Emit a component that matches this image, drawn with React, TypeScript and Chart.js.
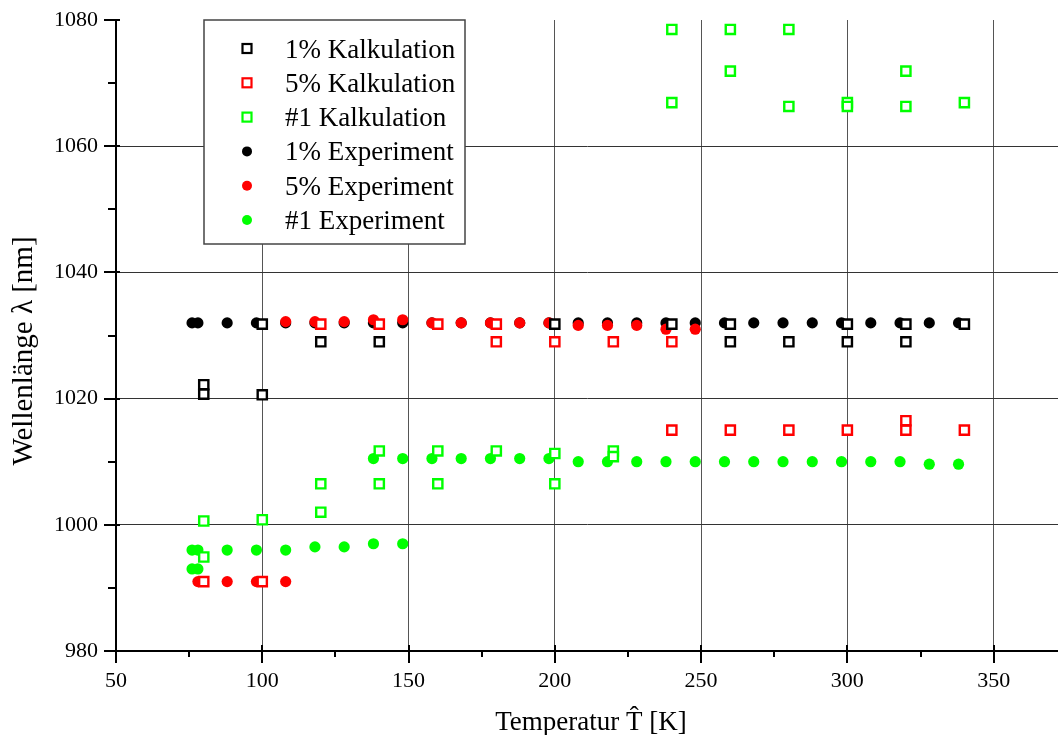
import React, { useEffect, useRef } from 'react';
import { Chart, registerables } from 'chart.js';

Chart.register(...registerables);

const FONT = '"Liberation Serif", "Times New Roman", serif';

// ---- data ----
const calc1X = [80, 80, 100, 100, 120, 140, 200, 240, 260, 260, 280, 300, 300, 320, 320, 340];
const calc1Y = [1022.2, 1020.7, 1020.6, 1031.8, 1029, 1029, 1031.8, 1031.8, 1031.8, 1029, 1029, 1031.8, 1029, 1031.8, 1029, 1031.8];

const calc5X = [80, 100, 120, 140, 160, 180, 180, 200, 220, 240, 240, 260, 280, 300, 320, 320, 340];
const calc5Y = [991, 991, 1031.8, 1031.8, 1031.8, 1031.8, 1029, 1029, 1029, 1029, 1015, 1015, 1015, 1015, 1015, 1016.5, 1015];

const calcNX = [80, 80, 100, 120, 120, 140, 140, 160, 160, 180, 200, 200, 220, 220, 240, 240, 260, 260, 280, 280, 300, 300, 320, 320, 340];
const calcNY = [1000.6, 994.9, 1000.8, 1006.5, 1002, 1011.7, 1006.5, 1011.7, 1006.5, 1011.7, 1011.3, 1006.5, 1011.7, 1010.8, 1078.5, 1066.9, 1078.5, 1071.9, 1078.5, 1066.3, 1066.9, 1066.3, 1071.9, 1066.3, 1066.9];

const exp1X = [76, 78, 88, 98, 108, 118, 128, 138, 148, 158, 168, 178, 188, 198, 208, 218, 228, 238, 248, 258, 268, 278, 288, 298, 308, 318, 328, 338];
const exp1Y = [1032, 1032, 1032, 1032, 1032, 1032, 1032, 1032, 1032, 1032, 1032, 1032, 1032, 1032, 1032, 1032, 1032, 1032, 1032, 1032, 1032, 1032, 1032, 1032, 1032, 1032, 1032, 1032];

const exp5X = [78, 88, 98, 108, 108, 118, 128, 138, 148, 158, 168, 178, 188, 198, 208, 218, 228, 238, 248];
const exp5Y = [991, 991, 991, 991, 1032.2, 1032.2, 1032.2, 1032.5, 1032.5, 1032, 1032, 1032, 1032, 1032, 1031.6, 1031.6, 1031.6, 1031, 1031];

const expNX = [76, 78, 76, 78, 88, 98, 108, 118, 128, 138, 148, 138, 148, 158, 168, 178, 188, 198, 208, 218, 228, 238, 248, 258, 268, 278, 288, 298, 308, 318, 328, 338];
const expNY = [996, 996, 993, 993, 996, 996, 996, 996.5, 996.5, 997, 997, 1010.5, 1010.5, 1010.5, 1010.5, 1010.5, 1010.5, 1010.5, 1010, 1010, 1010, 1010, 1010, 1010, 1010, 1010, 1010, 1010, 1010, 1010, 1009.6, 1009.6];

const seriesLabels = ['1% Kalkulation', '5% Kalkulation', '#1 Kalkulation', '1% Experiment', '5% Experiment', '#1 Experiment'];
const seriesColors = ['#000000', '#ff0000', '#00ff00', '#000000', '#ff0000', '#00ff00'];

const xMajorTicks = [50, 100, 150, 200, 250, 300, 350];
const xMinorTicks = [75, 125, 175, 225, 275, 325];
const yMajorTicks = [980, 1000, 1020, 1040, 1060, 1080];
const yMinorTicks = [990, 1010, 1030, 1050, 1070];

const xTitle = 'Temperatur T\u0302 [K]';
const yTitle = 'Wellenlänge λ [nm]';

const toPts = (xs: number[], ys: number[]) => xs.map((x, i) => ({ x, y: ys[i] }));

const decorPlugin = {
  id: 'decor',
  afterDraw(chart: any) {
    const ctx = chart.ctx as CanvasRenderingContext2D;
    const xs = chart.scales.x;
    const ys = chart.scales.y;
    const a = chart.chartArea;
    ctx.save();
    ctx.strokeStyle = '#000';
    ctx.lineWidth = 2;
    xMajorTicks.forEach((v) => {
      const p = Math.round(xs.getPixelForValue(v));
      ctx.beginPath();
      ctx.moveTo(p, a.bottom - 6);
      ctx.lineTo(p, a.bottom + 12);
      ctx.stroke();
    });
    xMinorTicks.forEach((v) => {
      const p = Math.round(xs.getPixelForValue(v));
      ctx.beginPath();
      ctx.moveTo(p, a.bottom);
      ctx.lineTo(p, a.bottom + 6);
      ctx.stroke();
    });
    yMajorTicks.forEach((v) => {
      const p = Math.round(ys.getPixelForValue(v));
      ctx.beginPath();
      ctx.moveTo(a.left - 12, p);
      ctx.lineTo(a.left + 4, p);
      ctx.stroke();
    });
    yMinorTicks.forEach((v) => {
      const p = Math.round(ys.getPixelForValue(v));
      ctx.beginPath();
      ctx.moveTo(a.left - 8, p);
      ctx.lineTo(a.left, p);
      ctx.stroke();
    });

    // axis titles
    ctx.fillStyle = '#000';
    ctx.font = `27px ${FONT}`;
    ctx.textAlign = 'center';
    ctx.textBaseline = 'alphabetic';
    ctx.fillText(xTitle, (a.left + a.right) / 2 + 4, 730);
    ctx.save();
    ctx.font = `29px ${FONT}`;
    ctx.translate(32, 351);
    ctx.rotate(-Math.PI / 2);
    ctx.fillText(yTitle, 0, 0);
    ctx.restore();

    // legend
    const lx = 204, ly = 20, lw = 261, lh = 224;
    ctx.fillStyle = '#fff';
    ctx.fillRect(lx, ly, lw, lh);
    ctx.strokeStyle = '#444';
    ctx.lineWidth = 1.5;
    ctx.strokeRect(lx, ly, lw, lh);
    const rowY0 = 48.5, rowStep = 34.3;
    seriesLabels.forEach((label, i) => {
      const cy = rowY0 + i * rowStep;
      const cx = 247;
      const col = seriesColors[i];
      if (i < 3) {
        ctx.strokeStyle = col;
        ctx.lineWidth = 2.2;
        ctx.strokeRect(cx - 4.5, cy - 4.5, 9, 9);
      } else {
        ctx.fillStyle = col;
        ctx.beginPath();
        ctx.arc(cx, cy, 5, 0, Math.PI * 2);
        ctx.fill();
      }
      ctx.fillStyle = '#000';
      ctx.font = `27px ${FONT}`;
      ctx.textAlign = 'left';
      ctx.textBaseline = 'alphabetic';
      ctx.fillText(label, 285, cy + 9);
    });
    ctx.restore();
  },
};

export default function App() {
  const ref = useRef<HTMLCanvasElement | null>(null);

  useEffect(() => {
    if (!ref.current) return;
    const sq = (i: number, xs: number[], ys: number[], order: number) => ({
      label: seriesLabels[i],
      data: toPts(xs, ys),
      pointStyle: 'rect',
      pointRadius: 6.5,
      pointBorderWidth: 2.4,
      borderColor: seriesColors[i],
      pointBorderColor: seriesColors[i],
      pointBackgroundColor: '#ffffff',
      backgroundColor: '#ffffff',
      showLine: false,
      order,
    });
    const dot = (i: number, xs: number[], ys: number[], order: number) => ({
      label: seriesLabels[i],
      data: toPts(xs, ys),
      pointStyle: 'circle',
      pointRadius: 5.6,
      pointBorderWidth: 0,
      borderColor: seriesColors[i],
      pointBorderColor: seriesColors[i],
      pointBackgroundColor: seriesColors[i],
      backgroundColor: seriesColors[i],
      showLine: false,
      order,
    });
    const chart = new Chart(ref.current, {
      type: 'scatter',
      data: {
        datasets: [
          sq(0, calc1X, calc1Y, 2),
          sq(1, calc5X, calc5Y, 1),
          sq(2, calcNX, calcNY, 0),
          dot(3, exp1X, exp1Y, 5),
          dot(4, exp5X, exp5Y, 4),
          dot(5, expNX, expNY, 3),
        ] as any,
      },
      plugins: [decorPlugin],
      options: {
        animation: false,
        responsive: false,
        devicePixelRatio: 1,
        layout: { autoPadding: false, padding: { top: 20, right: 0, left: 0, bottom: 0 } },
        plugins: { legend: { display: false }, tooltip: { enabled: false } },
        scales: {
          x: {
            type: 'linear',
            min: 50,
            max: 372,
            afterFit: (s: any) => {
              s.height = 84;
              s.paddingLeft = 0;
              s.paddingRight = 0;
              s.paddingTop = 0;
              s.paddingBottom = 0;
            },
            ticks: {
              stepSize: 50,
              includeBounds: false,
              color: '#000',
              padding: 17,
              font: { family: FONT, size: 22 },
              callback: (v: any) => String(v),
            },
            grid: {
              drawTicks: false,
              lineWidth: 1,
              color: (c: any) => (c.tick && c.tick.value >= 100 && c.tick.value <= 350 ? '#555' : 'rgba(0,0,0,0)'),
            },
            border: { display: true, color: '#000', width: 2 },
          },
          y: {
            type: 'linear',
            min: 980,
            max: 1080,
            afterFit: (s: any) => {
              s.width = 116;
              s.paddingLeft = 0;
              s.paddingRight = 0;
              s.paddingTop = 0;
              s.paddingBottom = 0;
            },
            ticks: {
              stepSize: 20,
              includeBounds: false,
              color: '#000',
              padding: 18,
              font: { family: FONT, size: 22 },
              callback: (v: any) => String(v),
            },
            grid: {
              drawTicks: false,
              lineWidth: 1,
              color: (c: any) => (c.tick && c.tick.value >= 1000 && c.tick.value <= 1060 ? '#333' : 'rgba(0,0,0,0)'),
            },
            border: { display: true, color: '#000', width: 2 },
          },
        },
      } as any,
    });
    return () => chart.destroy();
  }, []);

  return (
    <div style={{ position: 'absolute', left: 0, top: 0, width: 1058, height: 735, background: '#fff' }}>
      <canvas ref={ref} width={1058} height={735} style={{ display: 'block' }} />
    </div>
  );
}
